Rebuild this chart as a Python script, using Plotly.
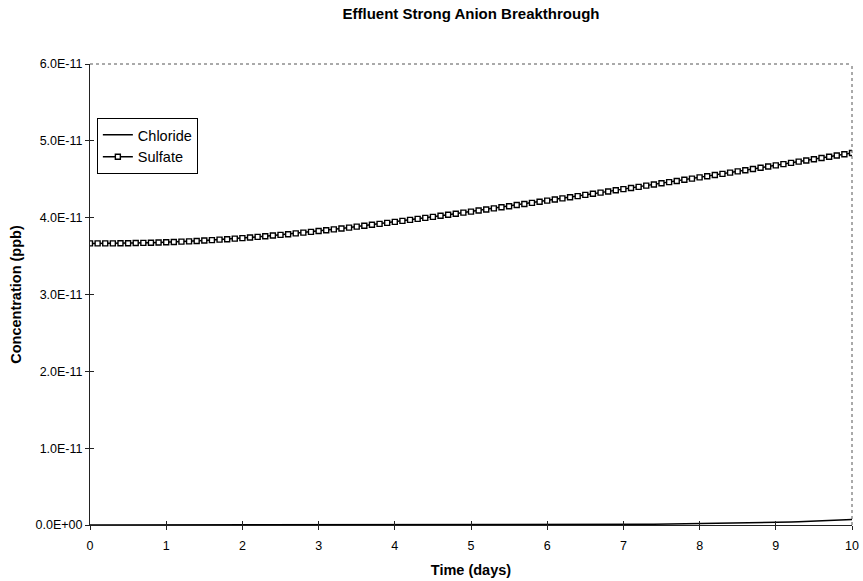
import plotly.graph_objects as go

# Time axis (days), sampled every 0.1 day
time_days = [round(i * 0.1, 1) for i in range(101)]

# Concentrations in units of 1e-11 ppb
sulfate = [
    3.665, 3.665, 3.665, 3.666, 3.667, 3.668, 3.670, 3.672, 3.674, 3.677, 3.680,
    3.684, 3.688, 3.692, 3.697, 3.702, 3.708, 3.714, 3.720, 3.727, 3.734,
    3.742, 3.750, 3.758, 3.767, 3.776, 3.785, 3.795, 3.805, 3.815, 3.826,
    3.837, 3.848, 3.859, 3.871, 3.883, 3.895, 3.907, 3.919, 3.932, 3.945,
    3.958, 3.971, 3.984, 3.997, 4.010, 4.024, 4.037, 4.051, 4.065, 4.079,
    4.093, 4.107, 4.121, 4.135, 4.149, 4.164, 4.178, 4.193, 4.207, 4.222,
    4.237, 4.251, 4.266, 4.281, 4.296, 4.311, 4.326, 4.341, 4.356, 4.371,
    4.386, 4.401, 4.417, 4.432, 4.447, 4.462, 4.478, 4.493, 4.508, 4.524,
    4.539, 4.555, 4.570, 4.586, 4.602, 4.617, 4.633, 4.649, 4.665, 4.681,
    4.697, 4.713, 4.729, 4.745, 4.761, 4.777, 4.793, 4.809, 4.825, 4.841,
]
chloride = [
    0.0, 0.0, 0.0, 0.0, 0.0, 0.0, 0.0, 0.0, 0.0, 0.0, 0.0,
    0.0, 0.0, 0.0, 0.0, 0.0, 0.0, 0.0, 0.0, 0.0, 0.0,
    0.0, 0.0, 0.0, 0.0, 0.0, 0.0, 0.0, 0.0, 0.0, 0.0,
    0.0, 0.0, 0.0, 0.0, 0.0, 0.0, 0.0, 0.0, 0.0, 0.0,
    0.0, 0.0, 0.0, 0.0, 0.0, 0.0, 0.0, 0.0, 0.0, 0.0,
    0.001, 0.001, 0.001, 0.001, 0.001, 0.002, 0.002, 0.002, 0.002, 0.002,
    0.003, 0.003, 0.003, 0.004, 0.004, 0.005, 0.005, 0.006, 0.006, 0.007,
    0.008, 0.008, 0.009, 0.010, 0.011, 0.012, 0.013, 0.014, 0.015, 0.016,
    0.018, 0.019, 0.020, 0.022, 0.023, 0.025, 0.027, 0.028, 0.030, 0.032,
    0.035, 0.038, 0.041, 0.044, 0.047, 0.051, 0.055, 0.059, 0.064, 0.070,
]
UNIT = 1e-11

y_tick_values = [0, 1, 2, 3, 4, 5, 6]
y_tick_labels = ["0.0E+00", "1.0E-11", "2.0E-11", "3.0E-11", "4.0E-11", "5.0E-11", "6.0E-11"]
x_tick_values = [0, 1, 2, 3, 4, 5, 6, 7, 8, 9, 10]

FONT = "Liberation Sans, Arial, sans-serif"

fig = go.Figure()
fig.add_trace(go.Scatter(
    x=time_days, y=[v * UNIT for v in chloride], name="Chloride",
    mode="lines", line=dict(color="black", width=1.5),
))
fig.add_trace(go.Scatter(
    x=time_days, y=[v * UNIT for v in sulfate], name="Sulfate",
    mode="lines+markers", line=dict(color="black", width=1.5),
    marker=dict(symbol="square", size=5, color="white",
                line=dict(color="black", width=1.4)),
))
# invisible trace to carry the inner half of the crossing tick marks
fig.add_trace(go.Scatter(x=[0, 10], y=[0, 0], xaxis="x2", yaxis="y2",
                         mode="lines", line=dict(width=0), showlegend=False,
                         hoverinfo="skip"))

y_range = [0, 6 * UNIT]
fig.update_layout(
    width=863, height=581,
    margin=dict(l=90, r=11, t=64, b=56, autoexpand=False),
    paper_bgcolor="white", plot_bgcolor="white",
    font=dict(family=FONT, color="black", size=12),
    title=dict(text="<b>Effluent Strong Anion Breakthrough</b>",
               x=0.5, xref="paper", y=1 - 14 / 581, yanchor="middle",
               font=dict(size=15, family=FONT)),
    xaxis=dict(range=[0, 10], tickvals=x_tick_values, showgrid=False,
               zeroline=False, showline=True, linecolor="#222", linewidth=1,
               ticks="outside", ticklen=4, tickcolor="#222",
               ticklabelstandoff=5, tickfont=dict(size=12.5),
               title=dict(text="<b>Time (days)</b>", font=dict(size=14.5), standoff=12)),
    yaxis=dict(range=y_range, tickvals=[v * UNIT for v in y_tick_values],
               ticktext=y_tick_labels, showgrid=False, zeroline=False,
               showline=True, linecolor="#222", linewidth=1,
               ticks="outside", ticklen=4, tickcolor="#222",
               tickfont=dict(size=12.5),
               title=dict(text="<b>Concentration (ppb)</b>", font=dict(size=14.5), standoff=10)),
    xaxis2=dict(range=[0, 10], overlaying="x", tickvals=x_tick_values,
                showticklabels=False, ticks="inside", ticklen=4,
                tickcolor="#222", showgrid=False, zeroline=False),
    yaxis2=dict(range=y_range, overlaying="y", tickvals=[v * UNIT for v in y_tick_values],
                showticklabels=False, ticks="inside", ticklen=4,
                tickcolor="#222", showgrid=False, zeroline=False),
    legend=dict(x=0.009, y=0.883, xanchor="left", yanchor="top",
                bgcolor="white", bordercolor="black", borderwidth=1,
                font=dict(size=14.5, family=FONT), tracegroupgap=0,
                itemwidth=30),
    showlegend=True,
)

# Plot frame on the top and right edges
fig.add_shape(type="line", xref="paper", yref="paper", x0=0, y0=1, x1=1, y1=1,
              line=dict(color="#555", width=1, dash="dot"), layer="above")
fig.add_shape(type="line", xref="paper", yref="paper", x0=1, y0=0, x1=1, y1=1,
              line=dict(color="#555", width=1, dash="dot"), layer="above")

fig.write_html("out.html")
